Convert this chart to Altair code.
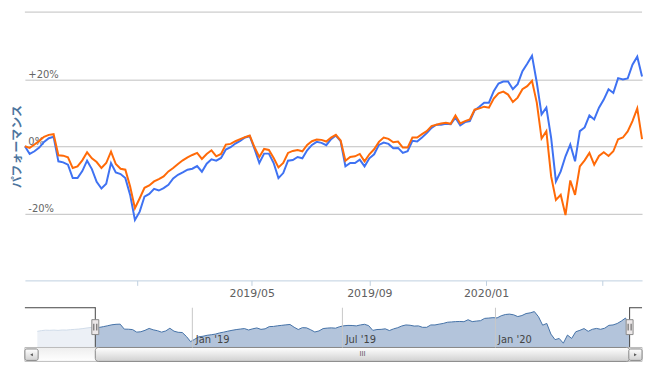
import altair as alt
import pandas as pd

# ---------------- data ----------------
# performance (%) sampled every 5 days from 2018-09-06 to 2020-06-12
blue_values = [
    0.0, -2.3, -1.5, -0.4, 1.3, 2.4, 2.8, -4.5, -4.8, -5.5,
    -9.5, -9.5, -7.4, -4.3, -6.8, -10.6, -12.6, -11.2, -5.0, -7.8,
    -8.3, -9.5, -14.5, -22.0, -19.5, -15.0, -14.2, -12.7, -13.2, -12.5,
    -11.5, -9.6, -8.5, -7.8, -7.0, -6.7, -5.9, -7.6, -5.2, -3.9,
    -4.3, -3.5, -1.0, -0.3, 0.8, 1.6, 2.6, 3.0, -0.8, -5.0,
    -2.2, -2.2, -5.0, -9.5, -8.0, -4.3, -4.1, -3.2, -3.6, -1.2,
    0.4, 1.3, 1.0, 0.3, 2.1, 3.2, 1.5, -6.0, -5.0, -5.0,
    -4.0, -6.0, -3.6, -2.4, 0.4, 1.1, 0.7, -0.6, -0.5, -2.0,
    -1.5, 1.6, 1.4, 2.6, 3.9, 5.5, 6.4, 6.4, 6.7, 6.6,
    8.5, 6.2, 7.2, 7.5, 10.7, 11.8, 13.0, 13.0, 16.4, 18.7,
    19.3, 19.3, 17.0, 18.5, 22.4, 24.6, 27.0, 19.0, 9.5, 11.5,
    2.5, -10.5, -7.5, -3.0, 0.5, -4.5, 4.5, 5.6, 9.2, 8.0,
    11.5, 13.9, 17.0, 15.9, 20.3, 19.9, 20.2, 24.3, 26.7, 20.8,
]
orange_values = [
    0.0, -0.5, 0.5, 1.6, 2.8, 3.4, 3.6, -2.7, -2.8, -3.3,
    -6.5, -6.0, -4.2, -1.8, -3.6, -4.7, -6.5, -5.0, -1.6, -5.3,
    -6.7, -7.0, -12.0, -18.5, -15.5, -12.4, -11.7, -10.5, -9.8, -9.0,
    -7.5, -6.5, -5.3, -4.2, -3.3, -2.6, -2.0, -3.8, -2.3, -1.2,
    -3.0, -2.3, 0.5, 0.7, 1.5, 2.1, 2.7, 3.2, -0.3, -3.2,
    -0.8, -1.1, -3.5, -6.3, -5.0, -2.0, -1.4, -1.1, -1.5, 0.4,
    1.5, 2.0, 1.9, 1.4, 2.6, 3.4, 1.7, -4.3, -3.2, -3.0,
    -2.3, -4.5, -2.4, -0.9, 1.3, 2.6, 2.2, 1.2, 1.4, -0.4,
    -0.4, 2.6, 2.6, 3.6, 4.5, 6.0, 6.4, 6.8, 7.0, 6.7,
    9.2, 6.8, 7.5, 8.0, 10.9, 11.3, 11.8, 11.5, 14.2, 15.8,
    16.3, 15.4, 13.2, 14.5, 17.0, 17.9, 19.5, 13.0, 2.3, 4.5,
    -9.0, -16.0, -14.5, -20.5, -10.2, -14.5, -6.0, -4.2, -2.0, -5.5,
    -2.9, -1.8, -2.9, -1.5, 2.1, 2.6, 4.4, 7.5, 11.3, 2.1,
]
# navigator-only history before the visible range (same 5-day spacing)
navigator_history = [-5.5, -4.6, -4.0, -4.2, -3.9, -4.3, -3.8, -3.9, -3.4, -3.0, -2.6, -2.0, -1.2, -0.6]

first_nav_day = "2018-06-28"
sampling = "5D"
main_start, main_end = "2018-09-06", "2020-06-12"
nav_start, nav_end = "2018-06-13", "2020-06-27"

main_ticks = ["2019-01-01", "2019-05-01", "2019-09-01", "2020-01-01", "2020-05-01"]
main_tick_labels = ["", "2019/05", "2019/09", "2020/01", ""]
nav_ticks = ["2019-01-01", "2019-07-01", "2020-01-01"]
y_ticks = [-20, 0, 20]
y_domain = [-40, 40]
nav_y_domain = [-25.3, 25.0]

BLUE = "#3f72f2"
ORANGE = "#ff6a08"

# ---------------- tables ----------------
nav_dates = pd.date_range(first_nav_day, periods=len(navigator_history) + len(orange_values), freq=sampling)
main_dates = nav_dates[len(navigator_history):]
main_df = pd.DataFrame({"date": main_dates, "blue": blue_values, "orange": orange_values})
nav_df = pd.DataFrame({"date": nav_dates, "value": navigator_history + orange_values})


def dt(s):
    y, m, d = (int(p) for p in s.split("-"))
    return alt.DateTime(year=y, month=m, date=d)


T = pd.Timestamp
W, MAIN_H, NAV_H = 621, 270, 40

# ---------------- main chart ----------------
x_main_scale = alt.Scale(domain=[dt(main_start), dt(main_end)])
y_main_scale = alt.Scale(domain=y_domain, nice=False, zero=False)
shown = ",".join("'%s'" % t for t in main_tick_labels if t)
x_axis = alt.Axis(
    values=[dt(t) for t in main_ticks],
    labelExpr="indexof([%s], timeFormat(datum.value, '%%Y/%%m')) >= 0 ? timeFormat(datum.value, '%%Y/%%m') : ''" % shown,
    grid=False, domainColor="#c0d0e0", tickColor="#c0d0e0", tickSize=5,
    labelPadding=2, labelFont="DejaVu Sans", labelFontSize=11, labelColor="#606060",
    labelFlush=False, labelOverlap=False,
)
y_axis = alt.Axis(
    values=y_ticks,
    labelExpr="datum.value > 0 ? '+' + datum.value + '%' : datum.value + '%'",
    grid=True, gridColor="#c0c0c0", domain=False, ticks=False, tickSize=0,
    labelAlign="left", labelBaseline="alphabetic", labelPadding=-3, labelOffset=-2,
    labelFont="DejaVu Sans", labelFontSize=10, labelColor="#666666",
    titleFont="Noto Sans CJK JP", titleFontSize=12, titleFontWeight="bold", titleColor="#4d759e",
    titleX=-8, titleY=MAIN_H / 2, titleAngle=270, titleAlign="center", titleBaseline="middle",
)

base_main = alt.Chart(main_df)
blue_line = base_main.mark_line(color=BLUE, strokeWidth=2).encode(
    x=alt.X("date:T", scale=x_main_scale, axis=x_axis, title=None),
    y=alt.Y("blue:Q", scale=y_main_scale, axis=y_axis, title="パフォーマンス"),
)
orange_line = base_main.mark_line(color=ORANGE, strokeWidth=2).encode(
    x=alt.X("date:T", scale=x_main_scale),
    y=alt.Y("orange:Q", scale=y_main_scale),
)
top_grid = alt.Chart(pd.DataFrame({"level": [y_domain[1]]})).mark_rule(color="#c0c0c0", strokeWidth=1).encode(
    y=alt.Y("level:Q", scale=y_main_scale)
)
main = alt.layer(top_grid, blue_line, orange_line).properties(width=W, height=MAIN_H)

# ---------------- navigator ----------------
x_nav_scale = alt.Scale(domain=[dt(nav_start), dt(nav_end)])
y_nav_scale = alt.Scale(domain=nav_y_domain, nice=False, zero=False)
nav_axis = alt.Axis(
    values=[dt(t) for t in nav_ticks], format="%b '%y",
    grid=True, gridColor="#c8c8c8", domain=False, ticks=False, tickSize=0,
    labelAlign="left", labelBaseline="alphabetic", labelOffset=3, labelPadding=-5,
    labelFont="DejaVu Sans", labelFontSize=10, labelColor="#444444",
    labelFlush=False, labelOverlap=False, zindex=1,
)

nav_area = alt.Chart(nav_df).mark_area(
    color="#b3c4db", opacity=1, line={"color": "#4572a7", "strokeWidth": 1}
).encode(
    x=alt.X("date:T", scale=x_nav_scale, axis=nav_axis, title=None),
    y=alt.Y("value:Q", scale=y_nav_scale, axis=None),
    y2=alt.Y2Datum(nav_y_domain[0]),
)

def xs(field):
    return alt.X(field, type="temporal", scale=x_nav_scale)

outside = pd.DataFrame({"start": [T(nav_start), T(main_end)], "end": [T(main_start), T(nav_end)]})
edges = pd.DataFrame({"date": [T(main_start), T(main_end)]})

mask = alt.Chart(outside).mark_rect(color="white", opacity=0.75).encode(
    x=xs("start"), x2="end:T", y=alt.value(0), y2=alt.value(NAV_H)
)
outline_top = alt.Chart(outside).mark_rule(color="#444444", strokeWidth=1).encode(
    x=xs("start"), x2="end:T", y=alt.value(0.5)
)
outline_side = alt.Chart(edges).mark_rule(color="#444444", strokeWidth=1).encode(
    x=xs("date"), y=alt.value(0), y2=alt.value(NAV_H)
)

track_grad = {"gradient": "linear", "x1": 0, "y1": 0, "x2": 0, "y2": 1,
              "stops": [{"offset": 0, "color": "#eeeeee"}, {"offset": 1, "color": "#ffffff"}]}
bar_grad = {"gradient": "linear", "x1": 0, "y1": 0, "x2": 0, "y2": 1,
            "stops": [{"offset": 0, "color": "#ffffff"}, {"offset": 1, "color": "#d0d0d0"}]}

track_df = pd.DataFrame({"start": [T(nav_start)], "end": [T(nav_end)]})
track = alt.Chart(track_df).mark_rect(fill=track_grad, stroke="#bbbbbb", strokeWidth=1).encode(
    x=xs("start"), x2="end:T", y=alt.value(40.5), y2=alt.value(54.5)
)
thumb_df = pd.DataFrame({"start": [T(main_start)], "end": [T(main_end)]})
thumb = alt.Chart(thumb_df).mark_rect(fill=bar_grad, stroke="#888888", strokeWidth=1, cornerRadius=3).encode(
    x=xs("start"), x2="end:T", y=alt.value(40.5), y2=alt.value(54.5)
)
btn_days = pd.Timedelta(days=16)
buttons_df = pd.DataFrame({"start": [T(nav_start), T(nav_end) - btn_days], "end": [T(nav_start) + btn_days, T(nav_end)]})
buttons = alt.Chart(buttons_df).mark_rect(fill=bar_grad, stroke="#888888", strokeWidth=1, cornerRadius=2).encode(
    x=xs("start"), x2="end:T", y=alt.value(42), y2=alt.value(53.5)
)
arrow_l = alt.Chart(pd.DataFrame({"date": [T(nav_start) + btn_days / 2]})).mark_point(
    shape="triangle-left", filled=True, color="#555555", size=10, opacity=1
).encode(x=xs("date"), y=alt.value(47.8))
arrow_r = alt.Chart(pd.DataFrame({"date": [T(nav_end) - btn_days / 2]})).mark_point(
    shape="triangle-right", filled=True, color="#555555", size=10, opacity=1
).encode(x=xs("date"), y=alt.value(47.8))
grip_df = pd.DataFrame({"date": [T(main_start) + (T(main_end) - T(main_start)) / 2]})
grip = alt.Chart(grip_df).mark_text(
    text="III", font="DejaVu Sans", fontSize=7, fill="#555555", baseline="middle"
).encode(x=xs("date"), y=alt.value(47.5))
handles = alt.Chart(edges).mark_point(
    shape="M-0.467,-1H0.467V1H-0.467Z", size=225, filled=True, fill="#ebe7e8",
    stroke="#8a8a8a", strokeWidth=1, opacity=1
).encode(x=xs("date"), y=alt.value(20))
handle_lines = alt.Chart(edges).mark_point(
    shape="M-0.2,-0.45V0.45M0.2,-0.45V0.45", size=225, filled=False,
    stroke="#555555", strokeWidth=1, opacity=1
).encode(x=xs("date"), y=alt.value(20))

nav = alt.layer(
    nav_area, mask, outline_top, outline_side, track, thumb, buttons,
    arrow_l, arrow_r, grip, handles, handle_lines
).properties(width=W, height=NAV_H)

chart = alt.vconcat(main, nav, spacing=27, bounds="flush").properties(
    padding={"left": 3, "top": 2, "right": 2, "bottom": 0}, background="white"
).configure_view(strokeWidth=0)

chart.save("out.html", embed_options={"renderer": "svg", "actions": False})
